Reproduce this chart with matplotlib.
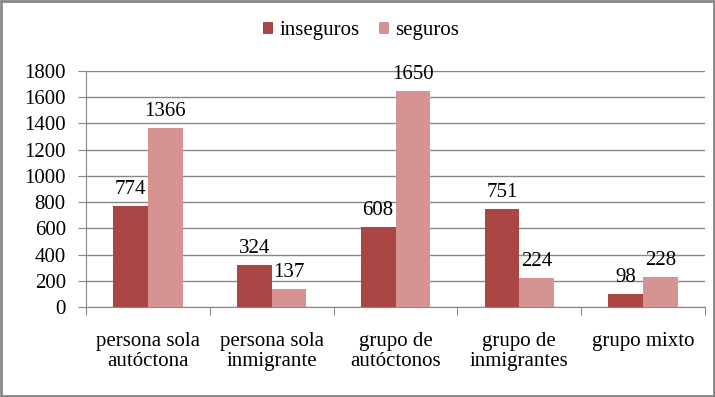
import matplotlib
matplotlib.use("Agg")
import matplotlib.pyplot as plt
import numpy as np
from matplotlib.patches import Rectangle

categories = ["persona sola\nautóctona", "persona sola\ninmigrante", "grupo de\nautóctonos",
              "grupo de\ninmigrantes", "grupo mixto"]
inseguros = [774, 324, 608, 751, 98]
seguros = [1366, 137, 1650, 224, 228]
yticks = [0, 200, 400, 600, 800, 1000, 1200, 1400, 1600, 1800]

plt.rcParams['font.family'] = ['Liberation Serif', 'DejaVu Serif']
fs = 15
c1 = '#AA4643'
c2 = '#D59392'
grid_c = '#888888'

fig = plt.figure(figsize=(7.15, 3.97), dpi=100)
ax = fig.add_axes([86/715, 1-307/397, (705-86)/715, (307-71)/397])

x = np.arange(len(categories))
w = 0.28
b1 = ax.bar(x - w/2, inseguros, w, color=c1, label='inseguros', zorder=3)
b2 = ax.bar(x + w/2, seguros, w, color=c2, label='seguros', zorder=3)
for bars in (b1, b2):
    for r in bars:
        ax.annotate(f"{int(r.get_height())}", (r.get_x() + r.get_width()/2, r.get_height()),
                    xytext=(0, 5), textcoords='offset points', ha='center', va='bottom',
                    fontsize=fs, zorder=4)

ax.set_xlim(-0.5, len(categories) - 0.5)
ax.set_ylim(0, 1800)
ax.set_yticks(yticks)
ax.set_yticklabels([str(v) for v in yticks], fontsize=fs)
ax.yaxis.grid(True, color=grid_c, linewidth=1, zorder=0)
ax.set_xticks(np.arange(-0.5, len(categories)), minor=False)
ax.set_xticklabels([])
ax.set_xticks(x, minor=True)
ax.set_xticklabels(categories, minor=True, fontsize=fs, linespacing=1.1)
ax.tick_params(axis='x', which='minor', length=0, pad=18)
ax.tick_params(axis='x', which='major', length=5.5, color=grid_c, direction='out')
ax.tick_params(axis='y', length=5.5, color=grid_c, direction='out', pad=9)
for s in ['top', 'right']:
    ax.spines[s].set_visible(False)
for s in ['left', 'bottom']:
    ax.spines[s].set_color(grid_c)

leg = fig.legend(handles=[b1, b2], labels=['inseguros', 'seguros'], loc='center',
                 bbox_to_anchor=(361/715, 1-31/397), ncol=2, frameon=False,
                 fontsize=fs, handlelength=0.5, handleheight=0.5, handletextpad=0.3,
                 columnspacing=0.9)

fig.patches.append(Rectangle((0.002, 0.003), 0.996, 0.994, transform=fig.transFigure,
                             fill=False, edgecolor='#868686', linewidth=2))
fig.savefig('out.png', dpi=100)
